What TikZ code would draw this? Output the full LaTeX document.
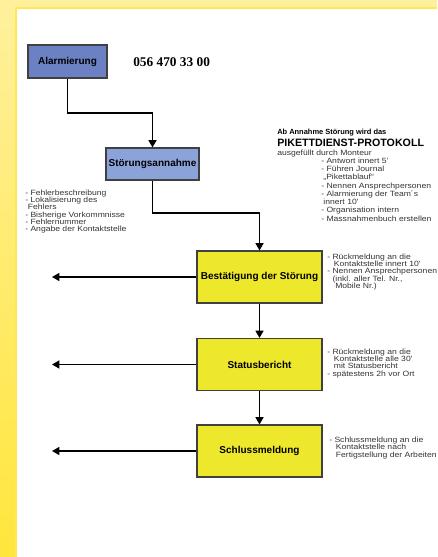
\documentclass[tikz,border=0pt]{standalone}
\usepackage{fontspec}
\setmainfont{Liberation Sans}
\newfontfamily\serifnum{Liberation Serif}
\newfontfamily\notefont[FakeStretch=1.13]{Liberation Sans}
\usepackage{tikz}
\usetikzlibrary{shapes,arrows.meta,positioning}

\definecolor{frameA}{HTML}{FFF09C}
\definecolor{frameB}{HTML}{FFE63C}
\definecolor{frameLine}{HTML}{FFE850}
\definecolor{blueA}{HTML}{6C80C4}
\definecolor{blueB}{HTML}{8CA3DA}
\definecolor{boxYellow}{HTML}{EEE82C}

\begin{document}
\begin{tikzpicture}[x=0.75pt, y=-0.75pt]
			\tikzstyle{Step}	= [rectangle, draw=black!75, line width=0.8pt, inner sep=0pt, font=\bfseries\fontsize{7.5}{9}\selectfont]
			\tikzstyle{Alarm}	= [Step, fill=blueA, minimum width=59.25pt, minimum height=24.75pt]
			\tikzstyle{Accept}	= [Step, fill=blueB, minimum width=69.75pt, minimum height=24pt]
			\tikzstyle{Phase}	= [Step, fill=boxYellow, minimum width=93.75pt, minimum height=39pt]
			\tikzstyle{Note}	= [anchor=north west, inner sep=0pt, align=left, text=black!80, font=\notefont\fontsize{5.7}{5.5}\selectfont]
			\tikzstyle{Flow}	= [line width=1.1pt, -{Triangle[length=5.5pt,width=6pt]}]
			\tikzstyle{Link}	= [line width=1.1pt]

			% frame
			\useasboundingbox (0,0) rectangle (437,557);
			\fill [frameA] (0,0) rectangle (437,8);
			\shade [top color=frameA, bottom color=frameB] (0,8) rectangle (16,557);
			\draw [frameLine, line width=0.9pt] (16,557) -- (16,8) -- (437,8);

			\node (alarm) at (67.5,61.5) [Alarm] {Alarmierung};
			\node (phone) at (133,62) [anchor=west, inner sep=0pt, font=\serifnum\bfseries\fontsize{10}{12}\selectfont] {056 470 33 00};
			\node (accept) at (152.5,164) [Accept] {Störungsannahme};
			\node (confirm) at (259.5,277) [Phase] {Bestätigung der Störung};
			\node (status) at (259.5,364.5) [Phase] {Statusbericht};
			\node (final) at (259.5,451) [Phase] {Schlussmeldung};

			\coordinate (b1) at (100,113);
			\coordinate (b2) at (200,213);
			\coordinate (l1) at (52,277);
			\coordinate (l2) at (52,364.5);
			\coordinate (l3) at (52,451);

			\draw [Link] (alarm.south) |- (b1);
			\draw [Flow] (b1) -| (accept.north);
			\draw [Link] (accept.south) |- (b2);
			\draw [Flow] (b2) -| (confirm.north);
			\draw [Flow] (confirm) to (status);
			\draw [Flow] (status) to (final);
			\draw [Flow] (confirm) to (l1);
			\draw [Flow] (status) to (l2);
			\draw [Flow] (final) to (l3);

			% notes
			\node (hdA) at (277,132.7) [anchor=west, inner sep=0pt, font=\bfseries\fontsize{5.6}{6.5}\selectfont] {Ab Annahme Störung wird das};
			\node (hdB) at (277,143.3) [anchor=west, inner sep=0pt, font=\bfseries\fontsize{8}{9}\selectfont] {PIKETTDIENST-PROTOKOLL};
			\node (hdC) at (277,153.3) [anchor=west, inner sep=0pt, text=black!80, font=\notefont\fontsize{5.7}{7}\selectfont] {ausgefüllt durch Monteur};
			\node (tasks) at (321,157.5) [Note, font=\notefont\fontsize{5.7}{6.2}\selectfont] {- Antwort innert 5'\\- Führen Journal\\\hspace{1.6pt}„Pikettablauf“\\- Nennen Ansprechpersonen\\- Alarmierung der Team´s\\\hspace{1.6pt}innert 10'\\- Organisation intern\\- Massnahmenbuch erstellen};
			\node (nAccept) at (25,189.5) [Note] {- Fehlerbeschreibung\\- Lokalisierung des\\\hspace{2pt}Fehlers\\- Bisherige Vorkommnisse\\- Fehlernummer\\- Angabe der Kontaktstelle};
			\node (nConfirm) at (327,253.5) [Note] {- Rückmeldung an die\\\hspace{5pt}Kontaktstelle innert 10'\\- Nennen Ansprechpersonen\\\hspace{4pt}(inkl. aller Tel. Nr.,\\\hspace{6pt}Mobile Nr.)};
			\node (nStatus) at (327,348.5) [Note] {- Rückmeldung an die\\\hspace{5pt}Kontaktstelle alle 30'\\\hspace{5pt}mit Statusbericht\\- spätestens 2h vor Ort};
			\node (nFinal) at (329,436.8) [Note] {- Schlussmeldung an die\\\hspace{5pt}Kontaktstelle nach\\\hspace{5pt}Fertigstellung der Arbeiten};
		\end{tikzpicture}
\end{document}
